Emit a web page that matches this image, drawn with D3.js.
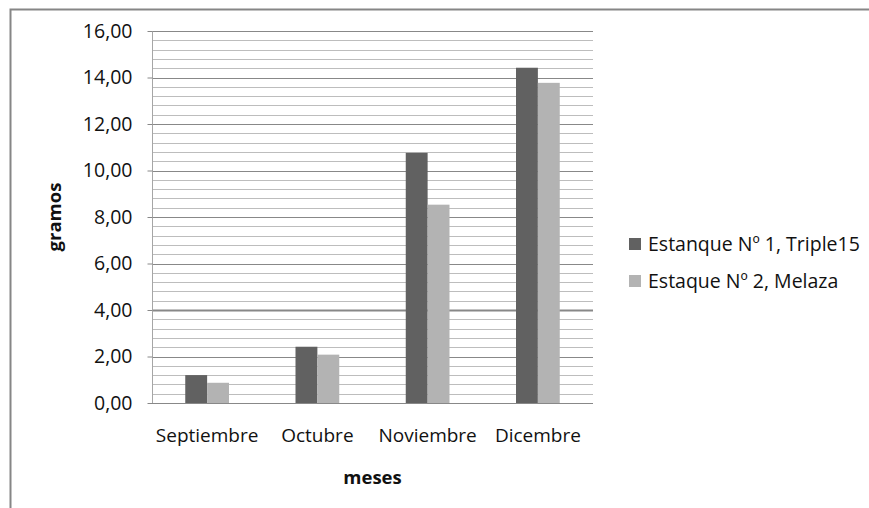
<!DOCTYPE html>
<html>
<head>
<meta charset="utf-8">
<script src="https://cdn.jsdelivr.net/npm/d3@7"></script>
<style>
  html, body { margin: 0; padding: 0; background: #fff; }
  svg { display: block; font-family: "Open Sans", "Liberation Sans", sans-serif; }
</style>
</head>
<body>
<svg id="chart" width="869" height="508"></svg>
<script>
// Monthly weight (grams) per pond
const months = ["Septiembre", "Octubre", "Noviembre", "Dicembre"];
const seriesNames = ["Estanque Nº 1, Triple15", "Estaque Nº 2, Melaza"];
const pond1 = [1.20, 2.42, 10.76, 14.42];
const pond2 = [0.87, 2.08, 8.53, 13.77];
const majorTicks = [0, 2, 4, 6, 8, 10, 12, 14, 16];
const minorStep = 0.4;
const colors = ["#616161", "#b3b3b3"];

const svg = d3.select("#chart");
const margin = { left: 152, right: 276, top: 31, bottom: 105 };
const W = 869, H = 508;

// Outer frame
svg.append("path")
  .attr("d", `M10.5,${H + 2} V9.5 H${W + 2}`)
  .attr("fill", "none")
  .attr("stroke", "#868686")
  .attr("stroke-width", 2);

const x0 = d3.scaleBand()
  .domain(months)
  .range([margin.left, W - margin.right]);

const x1 = d3.scaleBand()
  .domain([0, 1])
  .range([0, x0.bandwidth()])
  .paddingOuter(1.52)
  .paddingInner(0);

const y = d3.scaleLinear()
  .domain([0, 16])
  .range([H - margin.bottom, margin.top]);

const plot = svg.append("g");

// Minor gridlines
const minorVals = d3.range(0, 16 + 1e-9, minorStep)
  .filter(v => Math.abs(v / 2 - Math.round(v / 2)) > 1e-6);
plot.append("g")
  .selectAll("line")
  .data(minorVals)
  .join("line")
  .attr("x1", margin.left)
  .attr("x2", W - margin.right)
  .attr("y1", d => Math.round(y(d)) + 0.5)
  .attr("y2", d => Math.round(y(d)) + 0.5)
  .attr("stroke", "#bdbdbd")
  .attr("stroke-width", 1);

// Major gridlines
plot.append("g")
  .selectAll("line")
  .data(majorTicks.filter(d => d > 0))
  .join("line")
  .attr("x1", margin.left)
  .attr("x2", W - margin.right)
  .attr("y1", d => Math.round(y(d)) + 0.5)
  .attr("y2", d => Math.round(y(d)) + 0.5)
  .attr("stroke", "#888888")
  .attr("stroke-width", d => d === 4 ? 2 : 1);

// Bars
const rows = months.map((m, i) => ({ month: m, vals: [pond1[i], pond2[i]] }));
const groups = plot.append("g")
  .selectAll("g")
  .data(rows)
  .join("g")
  .attr("transform", d => `translate(${x0(d.month)},0)`);
groups.selectAll("rect")
  .data(d => d.vals.map((v, k) => ({ k, v })))
  .join("rect")
  .attr("x", d => x1(d.k))
  .attr("width", x1.bandwidth())
  .attr("y", d => y(d.v))
  .attr("height", d => y(0) - y(d.v))
  .attr("fill", d => colors[d.k]);

// Y axis
const yAxis = d3.axisLeft(y)
  .tickValues(majorTicks)
  .tickSize(5)
  .tickPadding(15)
  .tickFormat(d => d3.format(".2f")(d).replace(".", ","));
const yg = svg.append("g")
  .attr("transform", `translate(${margin.left + 0.5},0)`)
  .call(yAxis);
yg.select(".domain").attr("stroke", "#a6a6a6").attr("d", `M0,${y(16)}V${y(0)}`);
yg.selectAll(".tick line").attr("stroke", "#888888");
yg.selectAll(".tick text")
  .attr("font-size", 19.5)
  .attr("fill", "#111")
  .attr("font-family", "Open Sans");

// X axis baseline
svg.append("line")
  .attr("x1", margin.left)
  .attr("x2", W - margin.right)
  .attr("y1", Math.round(y(0)) + 0.5)
  .attr("y2", Math.round(y(0)) + 0.5)
  .attr("stroke", "#888888");

// X category labels
const xAxis = d3.axisBottom(x0).tickSize(0).tickPadding(26);
const xg = svg.append("g")
  .attr("transform", `translate(0,${y(0)})`)
  .call(xAxis);
xg.select(".domain").remove();
xg.selectAll(".tick text")
  .attr("font-size", 19)
  .attr("fill", "#111")
  .attr("font-family", "Open Sans");

// Axis titles
svg.append("text")
  .attr("x", (margin.left + W - margin.right) / 2)
  .attr("y", 484)
  .attr("text-anchor", "middle")
  .attr("font-size", 18.5)
  .attr("font-weight", "bold")
  .attr("fill", "#111")
  .text("meses");

svg.append("text")
  .attr("transform", "translate(61,217) rotate(-90)")
  .attr("text-anchor", "middle")
  .attr("font-size", 18.5)
  .attr("font-weight", "bold")
  .attr("fill", "#111")
  .text("gramos");

// Legend
const legend = svg.append("g").attr("transform", "translate(629,238)");
const items = legend.selectAll("g")
  .data(seriesNames)
  .join("g")
  .attr("transform", (d, i) => `translate(0,${i * 37})`);
items.append("rect")
  .attr("width", 12)
  .attr("height", 12)
  .attr("fill", (d, i) => colors[i]);
items.append("text")
  .attr("x", 19)
  .attr("y", 6)
  .attr("dy", "0.36em")
  .attr("font-size", 19.5)
  .attr("fill", "#111")
  .text(d => d);
</script>
</body>
</html>
